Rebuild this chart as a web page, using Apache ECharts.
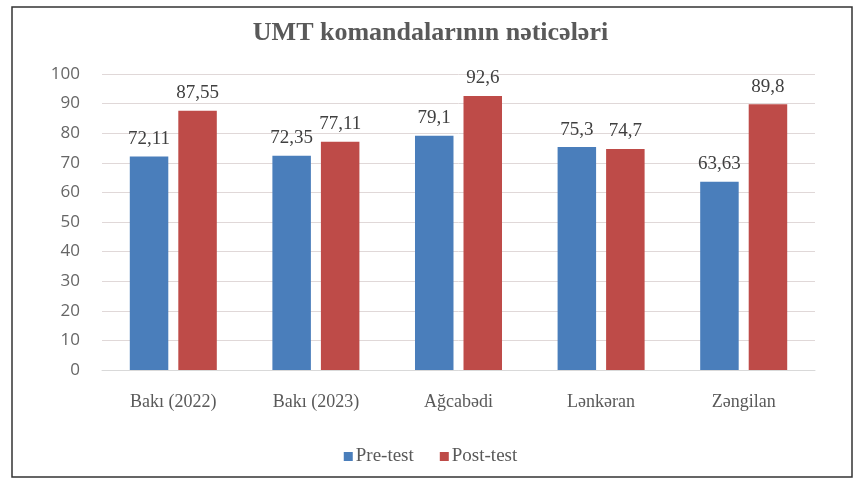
<!DOCTYPE html>
<html>
<head>
<meta charset="utf-8">
<script src="https://cdn.jsdelivr.net/npm/echarts@6/dist/echarts.min.js"></script>
<style>html,body{margin:0;padding:0;background:#fff;}#c{width:861px;height:479px;}</style>
</head>
<body>
<div id="c"></div>
<script>
const titleText = 'UMT komandalarının nəticələri';
const categories = ['Bakı (2022)', 'Bakı (2023)', 'Ağcabədi', 'Lənkəran', 'Zəngilan'];
const preTest = [72.11, 72.35, 79.1, 75.3, 63.63];
const postTest = [87.55, 77.11, 92.6, 74.7, 89.8];
const seriesNames = ['Pre-test', 'Post-test'];

const serif = '"Liberation Serif", "DejaVu Serif", serif';
const fmt = p => String(p.value).replace('.', ',');

const chart = echarts.init(document.getElementById('c'), null, {renderer: 'canvas'});
chart.setOption({
  animation: false,
  backgroundColor: '#fff',
  graphic: [{
    type: 'rect', shape: {x: 12, y: 7, width: 840, height: 470},
    style: {fill: 'none', stroke: '#333', lineWidth: 1.5}, z: 100
  }],
  title: {
    text: titleText, left: 'center', top: 15,
    textStyle: {fontFamily: serif, fontSize: 26, fontWeight: 'bold', color: '#595959'}
  },
  legend: {
    data: seriesNames, bottom: 8, left: 'center', itemWidth: 9, itemHeight: 9, itemGap: 26,
    icon: 'rect',
    textStyle: {fontFamily: serif, fontSize: 19, color: '#595959', padding: [0, 0, 0, -2]}
  },
  grid: {left: 102, right: 46, top: 74, bottom: 109},
  xAxis: {
    type: 'category', data: categories,
    axisLine: {show: true, lineStyle: {color: '#d9d9d9'}},
    axisTick: {show: false},
    axisLabel: {fontFamily: serif, fontSize: 18, color: '#595959', margin: 23}
  },
  yAxis: {
    type: 'value', min: 0, max: 100, interval: 10,
    axisLine: {show: false}, axisTick: {show: false},
    splitLine: {lineStyle: {color: '#e0d8d8', width: 1}},
    axisLabel: {fontFamily: '"Open Sans", sans-serif', fontSize: 17, color: '#666', margin: 22}
  },
  series: [{
    name: seriesNames[0], type: 'bar', data: preTest, barWidth: '27%', barGap: '26%',
    itemStyle: {color: '#4a7ebb'},
    label: {show: true, position: 'top', distance: 8, formatter: fmt,
      fontFamily: serif, fontSize: 19, color: '#404040'}
  }, {
    name: seriesNames[1], type: 'bar', data: postTest, barWidth: '27%', barGap: '26%',
    itemStyle: {color: '#be4b48'},
    label: {show: true, position: 'top', distance: 8, formatter: fmt,
      fontFamily: serif, fontSize: 19, color: '#404040'}
  }]
});
</script>
</body>
</html>
